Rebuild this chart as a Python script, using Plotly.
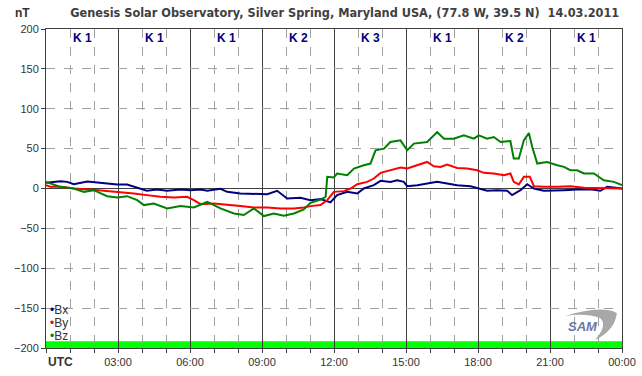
import plotly.graph_objects as go

# ---- data (hours UTC, nT) ----
bx_t = [0, 0.6, 0.88, 1.16, 1.72, 2.27, 2.97, 3.38, 3.94, 4.2, 4.63, 5.05, 5.6, 6.02, 6.44, 6.72, 7.27, 7.55, 8.1, 8.66,
        9.22, 9.63, 10.05, 10.6, 11.02, 11.44, 11.85, 12.13, 12.55, 12.97, 13.24, 13.66, 13.94, 14.35, 14.63, 14.91, 15.05,
        15.47, 15.88, 16.3, 16.71, 17.13, 17.69, 18.1, 18.38, 18.8, 19.22, 19.42, 19.77, 20.05, 20.33, 20.74, 21.16, 21.58,
        22.13, 22.69, 23.1, 23.38, 24.0]
bx_v = [7.1, 9.2, 8.3, 5.4, 8.8, 7.1, 5.0, 5.0, 0, -2.9, -1.3, -2.9, -1.3, -2.1, -1.3, -2.9, -0.4, -4.2, -6.3, -6.3,
        -7.1, -2.9, -12.5, -11.7, -14.6, -13.3, -17.5, -8.3, -4.2, -6.3, 0, 4.2, 9.6, 8.3, 10.4, 8.3, 2.9,
        4.2, 6.3, 8.3, 6.3, 4.2, 2.9, 0, -2.9, -2.1, -2.9, -8.3, -2.1, 5.4, 0, -2.9, -2.1, -2.1,
        -1.3, -0.8, -2.9, 2.1, 0]

by_t = [0, 0.19, 0.6, 1.16, 1.85, 2.55, 3.1, 3.66, 4.2, 4.77, 5.33, 5.88, 6.16, 6.44, 7.0, 7.55, 8.1, 8.66, 9.22, 9.77,
        10.33, 10.74, 11.02, 11.44, 11.72, 11.99, 12.41, 12.69, 12.97, 13.38, 13.66, 13.94, 14.35, 14.77, 15.05, 15.47,
        15.88, 16.16, 16.44, 16.71, 17.13, 17.55, 17.97, 18.24, 18.66, 19.08, 19.35, 19.49, 19.70, 19.91, 20.16, 20.33,
        20.74, 21.3, 21.85, 22.41, 23.24, 24.0]
by_v = [4.2, 2.1, 2.1, 0, -1.3, -3.3, -4.2, -6.3, -8.3, -10.4, -11.3, -10.4, -14.6, -19.6, -18.8, -20.8, -22.1, -23.8, -23.8, -25,
        -25, -23.8, -22.1, -20.8, -14.6, -4.2, -3.3, 0, 5.4, 8.3, 12.5, 19.6, 22.9, 26.3, 25, 29.2,
        33.3, 27.9, 27.1, 30, 25.8, 25, 22.9, 19.6, 18.8, 16.7, 18.8, 8.3, 5.0, 14.6, 14.6, 2.9,
        2.1, 2.1, 2.9, 0.8, 0.8, 0]

bz_t = [0, 0.19, 0.6, 1.16, 1.58, 1.99, 2.55, 2.97, 3.38, 3.8, 4.08, 4.49, 5.05, 5.6, 6.16, 6.72, 7.27, 7.83, 8.24, 8.66,
        9.08, 9.49, 9.91, 10.33, 10.74, 11.02, 11.44, 11.65, 11.72, 11.99, 12.13, 12.55, 12.83, 13.24, 13.52, 13.73,
        14.08, 14.35, 14.77, 15.05, 15.33, 15.88, 16.3, 16.58, 16.99, 17.41, 17.83, 18.03, 18.38, 18.66, 18.94, 19.35,
        19.49, 19.70, 19.91, 20.12, 20.26, 20.47, 20.88, 21.3, 21.58, 21.85, 22.13, 22.41, 22.83, 23.24, 23.66, 24.0]
bz_v = [8.3, 6.3, 2.1, 0, -4.2, -2.1, -9.6, -11.3, -9.6, -14.6, -20.8, -18.8, -25, -22.1, -23.8, -16.7, -25, -31.3, -33.3, -25,
        -34.6, -31.3, -34.2, -31.3, -26.3, -17.9, -13.8, -10.4, 14.6, 13.8, 18.8, 16.7, 25, 29.2, 31.3, 47.9,
        50, 58.3, 60.4, 47.9, 56.3, 58.3, 70.8, 62.5, 62.5, 66.7, 62.5, 66.7, 62.5, 64.6, 58.3, 59.6,
        37.5, 37.5, 60.4, 69.6, 52.1, 31.3, 33.3, 29.2, 27.1, 22.9, 22.9, 18.8, 18.8, 10.4, 8.3, 4.2]

k_index = [1, 1, 1, 2, 3, 1, 2, 1]
k_centers = [1.5, 4.5, 7.5, 10.5, 13.5, 16.5, 19.5, 22.5]

x_tickvals = [0, 3, 6, 9, 12, 15, 18, 21, 24]
x_ticktext = ["", "03:00", "06:00", "09:00", "12:00", "15:00", "18:00", "21:00", "00:00"]
y_tickvals = [-200, -150, -100, -50, 0, 50, 100, 150, 200]

series = [("Bx", bx_t, bx_v, "#000080"), ("By", by_t, by_v, "#ff0000"), ("Bz", bz_t, bz_v, "#008000")]

DARK = "#404040"
GRID = "#a0a0a0"
LBL = "#333333"
FONT = "Liberation Sans, Arial, sans-serif"

fig = go.Figure()
for name, t, v, c in series:
    fig.add_trace(go.Scatter(x=t, y=v, mode="lines", name=name, line=dict(color=c, width=2),
                             showlegend=False))

fig.update_layout(
    width=642, height=376,
    margin=dict(l=46, r=20, t=29, b=28, autoexpand=False),
    paper_bgcolor="white", plot_bgcolor="white",
    font=dict(family=FONT, size=11, color=LBL),
    title=dict(text="Genesis Solar Observatory, Silver Spring, Maryland USA, (77.8 W, 39.5 N)\u00a0\u00a014.03.2011",
               x=0.537, xanchor="center", y=1 - 13 / 376, yanchor="middle",
               font=dict(family="Liberation Sans Narrow, Arial Narrow, DejaVu Sans Condensed, sans-serif",
                         size=12.6, color=DARK, weight="bold")),
)

fig.update_xaxes(range=[0, 24], tickmode="array", tickvals=x_tickvals, ticktext=x_ticktext,
                 showgrid=True, gridcolor=DARK, gridwidth=1,
                 showline=True, linecolor=DARK, linewidth=1, mirror=True,
                 ticks="outside", ticklen=4, tickcolor=DARK, zeroline=False,
                 tickfont=dict(size=11, color=LBL),
                 minor=dict(tickmode="linear", tick0=0, dtick=1, showgrid=True, gridcolor=GRID,
                            griddash="dash", gridwidth=1, ticks="outside", ticklen=4, tickcolor=DARK))
fig.update_yaxes(range=[-200, 200], tickmode="array", tickvals=y_tickvals,
                 showgrid=True, gridcolor=GRID, griddash="dash", gridwidth=1,
                 zeroline=True, zerolinecolor=DARK, zerolinewidth=1,
                 showline=True, linecolor=DARK, linewidth=1, mirror=True,
                 ticks="outside", ticklen=4, tickcolor=DARK,
                 tickfont=dict(size=11, color=LBL))

# green status band at the bottom
fig.add_shape(type="rect", xref="paper", x0=0, x1=1, yref="y", y0=-200, y1=-191.5,
              fillcolor="#00ff00", line=dict(width=0), layer="below")

# K-index labels
for xc, k in zip(k_centers, k_index):
    fig.add_annotation(x=xc, xref="x", y=1 - 9 / 319, yref="paper", text=f"K {k}", showarrow=False,
                       font=dict(size=12, color="#000080", weight="bold"), yanchor="middle")

# legend as text
for i, (name, t, v, c) in enumerate(series):
    fig.add_annotation(x=0, xref="paper", xanchor="left", xshift=2,
                       y=(348 - (310 + 13 * i)) / 319, yref="paper", yanchor="middle",
                       text=f'<span style="color:{c}">•</span>{name}', showarrow=False,
                       font=dict(size=12, color=LBL))

fig.add_annotation(x=0, xref="paper", xanchor="left", y=0, yref="paper", yanchor="top", yshift=-5,
                   text="<b>UTC</b>", showarrow=False, font=dict(size=12, color=LBL))
fig.add_annotation(x=-24 / 576, xref="paper", xanchor="center", y=(348 - 13) / 319, yref="paper",
                   yanchor="middle", text="<b>nT</b>", showarrow=False, font=dict(size=12, color=LBL))

# SAM logo (decoration)
fig.add_shape(type="path", xref="paper", yref="paper", layer="below",
              path="M 0.901 0.100 Q 0.962 0.135 0.991 0.110 Q 0.988 0.056 0.953 0.025 "
                   "Q 0.976 0.072 0.962 0.094 Q 0.936 0.110 0.901 0.100 Z",
              fillcolor="#a8a8a8", line=dict(width=0))
fig.add_annotation(x=(583 - 46) / 576, xref="paper", xanchor="center", y=(348 - 326) / 319, yref="paper",
                   yanchor="middle", text="<i><b>SAM</b></i>", showarrow=False,
                   font=dict(size=13, color="#6a78a8"))

fig.write_html("out.html", config={"displayModeBar": False},
               post_script="document.body.style.margin='0';document.body.style.padding='0';")
